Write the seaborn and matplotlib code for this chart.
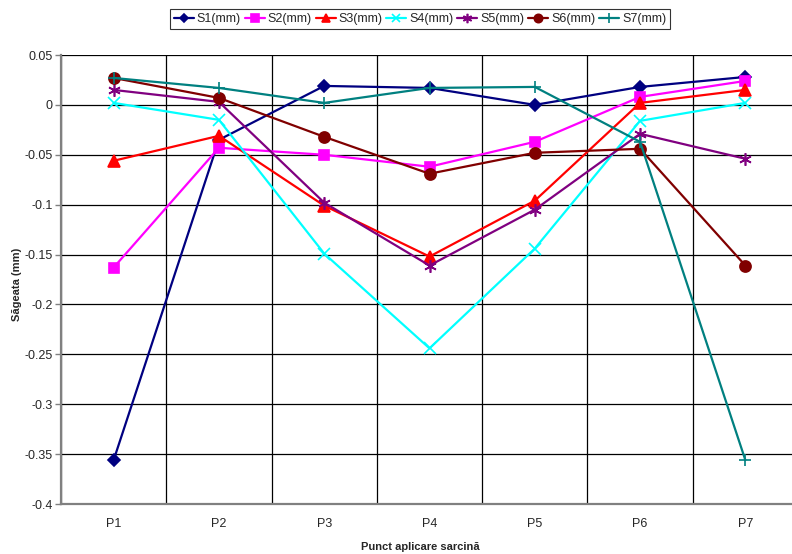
import numpy as np
import pandas as pd
import matplotlib
matplotlib.use("Agg")
import matplotlib.pyplot as plt
import seaborn as sns

# Load points along the beam and the deflection measured at each sensor
points = ["P1", "P2", "P3", "P4", "P5", "P6", "P7"]
s1 = [-0.356, -0.035, 0.019, 0.017, 0.000, 0.018, 0.028]
s2 = [-0.163, -0.043, -0.050, -0.062, -0.037, 0.008, 0.024]
s3 = [-0.056, -0.031, -0.101, -0.152, -0.096, 0.002, 0.015]
s4 = [0.002, -0.015, -0.149, -0.244, -0.144, -0.016, 0.002]
s5 = [0.015, 0.003, -0.098, -0.161, -0.105, -0.029, -0.054]
s6 = [0.027, 0.007, -0.032, -0.069, -0.048, -0.044, -0.161]
s7 = [0.027, 0.017, 0.002, 0.017, 0.018, -0.037, -0.356]

series_names = ["S1(mm)", "S2(mm)", "S3(mm)", "S4(mm)", "S5(mm)", "S6(mm)", "S7(mm)"]
series_values = [s1, s2, s3, s4, s5, s6, s7]

colors = ["#000080", "#FF00FF", "#FF0000", "#00FFFF", "#800080", "#800000", "#008080"]
markers = ["D", "s", "^", "x", (6, 2, 0), "o", "+"]
msizes = [6, 7, 8, 8, 9, 8, 9]

df = pd.DataFrame({
    "punct": points * len(series_names),
    "valoare": sum(series_values, []),
    "serie": np.repeat(series_names, len(points)),
})

sns.set_style("white")
plt.rcParams["font.family"] = ["Liberation Sans", "DejaVu Sans"]

fig = plt.figure(figsize=(7.92, 5.54), dpi=100)
ax = fig.add_axes([61 / 792, 1 - 504 / 554, 737 / 792, 449 / 554])

for name, col, mk, ms in zip(series_names, colors, markers, msizes):
    sub = df[df["serie"] == name]
    sns.lineplot(data=sub, x="punct", y="valoare", ax=ax, color=col,
                 marker=mk, markersize=ms, linewidth=1.6, label=name,
                 markeredgecolor=col, markeredgewidth=1.2, sort=False)

ax.set_xlim(-0.5, 6.5)
ax.set_ylim(-0.4, 0.05)
ax.set_yticks(np.arange(-0.4, 0.0501, 0.05))
ax.set_yticklabels(["-0.4", "-0.35", "-0.3", "-0.25", "-0.2", "-0.15",
                    "-0.1", "-0.05", "0", "0.05"])
ax.set_xticks(range(len(points)))
ax.set_xticklabels(points)
ax.set_xticks(np.arange(-0.5, 7, 1), minor=True)

ax.grid(False)
ax.yaxis.grid(True, which="major", color="black", linewidth=0.9)
ax.xaxis.grid(True, which="minor", color="black", linewidth=0.9)
ax.set_axisbelow(True)

for side in ["top", "right"]:
    ax.spines[side].set_visible(False)
for side in ["left", "bottom"]:
    ax.spines[side].set_color("#808080")
    ax.spines[side].set_linewidth(1.6)

ax.tick_params(axis="y", which="major", length=4, width=1, color="#808080",
               labelsize=9, pad=2, left=True)
ax.tick_params(axis="x", which="both", length=0, labelsize=9, pad=10)

ax.set_xlabel("Punct aplicare sarcină", fontsize=8, fontweight="bold")
ax.xaxis.set_label_coords((420 - 61) / 737, -0.085)
ax.set_ylabel("Săgeata (mm)", fontsize=8, fontweight="bold")
ax.yaxis.set_label_coords(-0.053, 0.49)

ax.legend_.remove()
handles, labels = ax.get_legend_handles_labels()
leg = fig.legend(handles, labels, loc="center", bbox_to_anchor=(420 / 792, 1 - 19 / 554),
                 ncol=7, fontsize=9, frameon=True, fancybox=False, edgecolor="black",
                 handlelength=1.6, handletextpad=0.25, columnspacing=0.3,
                 borderpad=0.3, borderaxespad=0.2, markerscale=0.75)
leg.get_frame().set_linewidth(0.8)

fig.savefig("out.png", dpi=100)
